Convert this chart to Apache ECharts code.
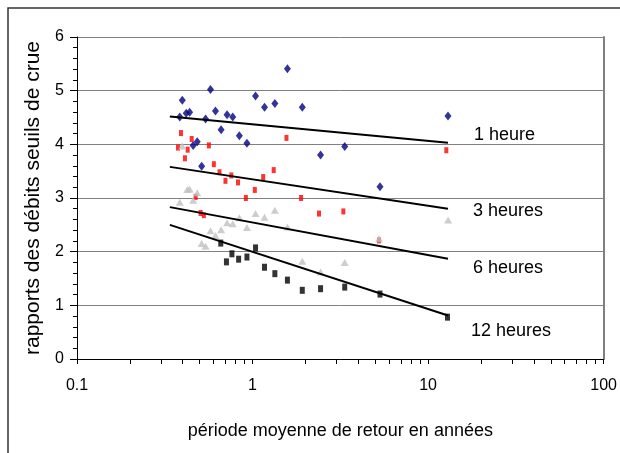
<!DOCTYPE html>
<html>
<head>
<meta charset="utf-8">
<script src="https://cdn.jsdelivr.net/npm/echarts@6/dist/echarts.min.js"></script>
<style>
  html, body { margin: 0; padding: 0; background: #fff; }
  #chart { width: 620px; height: 453px; }
</style>
</head>
<body>
<div id="chart"></div>
<script>
// [période de retour (années), rapport]
const points1h = [
  [1.58, 5.41], [0.576, 5.02], [0.398, 4.82], [1.04, 4.90], [1.34, 4.76], [1.17, 4.69],
  [1.92, 4.69], [0.419, 4.58], [0.438, 4.60], [0.385, 4.51], [0.615, 4.62], [0.716, 4.55],
  [0.771, 4.51], [0.540, 4.47], [0.662, 4.27], [0.841, 4.16], [0.929, 4.02], [0.484, 4.05],
  [0.459, 3.98], [2.44, 3.80], [3.35, 3.96], [0.513, 3.59], [12.98, 4.53], [5.32, 3.21]
];
const points3h = [
  [0.391, 4.21], [0.450, 4.10], [0.376, 3.94], [0.427, 3.90], [0.564, 3.98], [0.412, 3.74],
  [1.56, 4.12], [0.602, 3.63], [0.648, 3.48], [1.32, 3.52], [0.757, 3.42], [1.15, 3.39],
  [0.701, 3.32], [0.826, 3.29], [1.03, 3.15], [0.916, 3.00], [1.89, 3.00], [0.474, 3.02],
  [2.39, 2.71], [3.29, 2.75], [0.506, 2.72], [0.528, 2.68], [12.7, 3.89], [5.25, 2.21]
];
const points6h = [
  [0.398, 3.97], [0.425, 3.16], [0.438, 3.17], [0.484, 3.10], [0.385, 2.92], [0.459, 2.96],
  [1.04, 2.71], [1.34, 2.77], [1.17, 2.64], [0.841, 2.63], [0.716, 2.54], [0.771, 2.52],
  [0.929, 2.45], [1.58, 2.46], [0.576, 2.39], [0.662, 2.41], [0.615, 2.30], [0.513, 2.15],
  [0.540, 2.10], [1.92, 1.82], [2.44, 1.62], [3.35, 1.80], [5.25, 2.24], [13.0, 2.59]
];
const points12h = [
  [0.659, 2.16], [1.04, 2.07], [0.763, 1.96], [0.710, 1.81], [0.833, 1.86], [0.929, 1.90],
  [1.17, 1.71], [1.34, 1.59], [1.58, 1.47], [1.92, 1.28], [2.44, 1.31], [3.35, 1.34],
  [5.32, 1.21], [12.9, 0.78]
];

// courbes de tendance (logarithmiques, donc droites sur l'axe log)
const trendX = [0.338, 12.98];
const trend1h = [4.52, 4.03];
const trend3h = [3.58, 2.80];
const trend6h = [2.83, 1.87];
const trend12h = [2.50, 0.81];

const trendNames = ['1 heure', '3 heures', '6 heures', '12 heures'];
const xTicks = [0.1, 0.2, 0.3, 0.4, 0.5, 0.6, 0.7, 0.8, 0.9, 1, 2, 3, 4, 5, 6, 7, 8, 9,
  10, 20, 30, 40, 50, 60, 70, 80, 90, 100];
const xLabels = [0.1, 1, 10, 100];

const font = 'Liberation Sans, Arial, sans-serif';

function trendSeries(vals) {
  return {
    type: 'line',
    data: trendX.map((x, i) => [x, vals[i]]),
    symbol: 'none',
    lineStyle: { color: '#000', width: 2 },
    z: 5,
    silent: true
  };
}

const chart = echarts.init(document.getElementById('chart'));
chart.setOption({
  animation: false,
  grid: { left: 77, right: 13, top: 37, bottom: 94, containLabel: false },
  xAxis: {
    type: 'log',
    logBase: 10,
    min: 0.1,
    max: 100,
    axisLine: { lineStyle: { color: '#000', width: 1 } },
    axisTick: { inside: false, length: 5, customValues: xTicks, lineStyle: { color: '#000' } },
    axisLabel: {
      customValues: xLabels,
      fontSize: 16, color: '#000', fontFamily: font, margin: 19,
      formatter: v => String(v)
    },
    splitLine: { show: false },
    name: 'période moyenne de retour en années',
    nameLocation: 'middle',
    nameGap: 63,
    nameTextStyle: { fontSize: 18, color: '#000', fontFamily: font }
  },
  yAxis: [{
    type: 'value',
    min: 0,
    max: 6,
    interval: 1,
    axisLine: { show: true, lineStyle: { color: '#000', width: 1 } },
    axisTick: { show: true, length: 7, lineStyle: { color: '#000' } },
    minorTick: { show: true, splitNumber: 5, length: 4, lineStyle: { color: '#000' } },
    axisLabel: { fontSize: 16, color: '#000', fontFamily: font, margin: 13 },
    splitLine: { show: true, lineStyle: { color: '#808080', width: 1 } },
    name: 'rapports des débits seuils de crue',
    nameLocation: 'middle',
    nameGap: 30,
    nameTextStyle: { fontSize: 21, color: '#000', fontFamily: font }
  }, {
    type: 'value',
    position: 'right',
    min: 0,
    max: 6,
    interval: 1,
    axisLine: { show: true, lineStyle: { color: '#808080', width: 2 } },
    axisTick: { show: false },
    axisLabel: { show: false },
    splitLine: { show: false }
  }],
  series: [
    {
      type: 'scatter', name: trendNames[0], data: points1h,
      symbol: 'diamond', symbolSize: [7, 9],
      itemStyle: { color: '#000080' }
    },
    {
      type: 'scatter', name: trendNames[1], data: points3h,
      symbol: 'rect', symbolSize: [4, 6],
      itemStyle: { color: '#ff0000' }
    },
    {
      type: 'scatter', name: trendNames[2], data: points6h,
      symbol: 'triangle', symbolSize: [8, 7],
      itemStyle: { color: '#c0c0c0' }
    },
    {
      type: 'scatter', name: trendNames[3], data: points12h,
      symbol: 'rect', symbolSize: [5, 7],
      itemStyle: { color: '#000' }
    },
    trendSeries(trend1h),
    trendSeries(trend3h),
    trendSeries(trend6h),
    trendSeries(trend12h)
  ],
  graphic: [
    {
      type: 'rect', silent: true,
      shape: { x: 8, y: 8, width: 700, height: 700 },
      style: { fill: 'none', stroke: '#333', lineWidth: 1.5 }
    },
    { type: 'text', x: 474, y: 135, style: { text: trendNames[0], font: '18px ' + font, fill: '#000', textVerticalAlign: 'middle' } },
    { type: 'text', x: 473, y: 211, style: { text: trendNames[1], font: '18px ' + font, fill: '#000', textVerticalAlign: 'middle' } },
    { type: 'text', x: 473, y: 268, style: { text: trendNames[2], font: '18px ' + font, fill: '#000', textVerticalAlign: 'middle' } },
    { type: 'text', x: 471, y: 331, style: { text: trendNames[3], font: '18px ' + font, fill: '#000', textVerticalAlign: 'middle' } }
  ]
});
</script>
</body>
</html>
